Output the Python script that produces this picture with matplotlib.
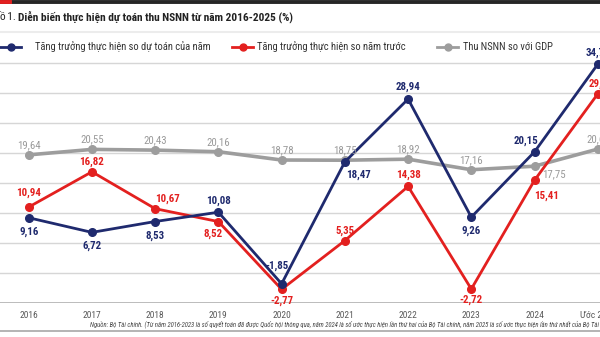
import matplotlib
matplotlib.use("Agg")
import matplotlib.pyplot as plt
from matplotlib.lines import Line2D

plt.rcParams["font.family"] = ["Roboto Condensed", "DejaVu Sans"]

# ---- data ----
years = ["2016", "2017", "2018", "2019", "2020", "2021", "2022", "2023", "2024", "Ước 2025"]
vs_budget = [9.16, 6.72, 8.53, 10.08, -1.85, 18.47, 28.94, 9.26, 20.15, 34.75]
vs_prev_year = [10.94, 16.82, 10.67, 8.52, -2.77, 5.35, 14.38, -2.72, 15.41, 29.8]
revenue_gdp = [19.64, 20.55, 20.43, 20.16, 18.78, 18.75, 18.92, 17.16, 17.75, 20.6]

series_names = [
    "Tăng trưởng thực hiện so dự toán của năm",
    "Tăng trưởng thực hiện so năm trước",
    "Thu NSNN so với GDP",
]
title_num = "ồ 1. "
title_main = "Diễn biến thực hiện dự toán thu NSNN từ năm 2016-2025 (%)"
source_note = ("Nguồn: Bộ Tài chính. (Từ năm 2016-2023 là số quyết toán đã được Quốc hội thông qua, "
               "năm 2024 là số ước thực hiện lần thứ hai của Bộ Tài chính, "
               "năm 2025 là số ước thực hiện lần thứ nhất của Bộ Tài chính)")

BLUE = "#1f2a6e"
RED = "#e3201f"
GRAY = "#9d9d9d"

W, H = 600, 337
fig = plt.figure(figsize=(W / 100, H / 100), dpi=100)


def fy(px):
    return 1 - px / H


# axes geometry: x step 63.23 px starting at 28.7 px; y = 6 px per unit, -5 at 302.7 px
x0, dx = 28.7, 63.23
ymin, ymax = -5, 37
ax_bottom = fy(302.7)
ax_height = (ymax - ymin) * 6 / H
ax = fig.add_axes([0, ax_bottom, 1, ax_height])
ax.set_xlim(-x0 / dx, (W - x0) / dx)
ax.set_ylim(ymin, ymax)
ax.patch.set_alpha(0)
for s in ax.spines.values():
    s.set_visible(False)
ax.set_yticks([])
ax.set_xticks([])

# horizontal grid
for g in range(0, 40, 5):
    ax.axhline(g, color="#d6d6d6", lw=1.0, zorder=0)
ax.axhline(-5, color="#b0b0b0", lw=1.2, zorder=0)

xs = list(range(len(years)))
ax.plot(xs, revenue_gdp, color=GRAY, lw=2.6, marker="o", ms=5.5, zorder=2, clip_on=False)
ax.plot(xs, vs_prev_year, color=RED, lw=2.0, marker="o", ms=5.5, zorder=3, clip_on=False)
ax.plot(xs, vs_budget, color=BLUE, lw=2.0, marker="o", ms=5.5, zorder=4, clip_on=False)


def fmt(v):
    return f"{v:.2f}".replace(".", ",")


# label offsets in points (dx, dy)
blue_off = [(0, -10), (0, -10), (0, -10), (0, 8), (-3, 13), (10, -9), (0, 9), (0, -10), (-6, 8), (0, 8)]
red_off = [(0, 10), (0, 7), (9, 7), (-4, -9), (0, -8), (0, 7), (0, 8), (0, -8), (9, -11), (0, 7)]
gray_off = [(0, 7), (0, 7), (0, 7), (0, 7), (0, 7), (0, 7), (0, 7), (0, 7), (14, -6), (0, 7)]
labels = [
    (vs_budget, blue_off, BLUE, "bold"),
    (vs_prev_year, red_off, RED, "bold"),
    (revenue_gdp, gray_off, "#9a9a9a", "normal"),
]
for vals, offs, col, wt in labels:
    for x, v, (ox, oy) in zip(xs, vals, offs):
        label = fmt(v)
        if vals is vs_prev_year and x == 9:
            label = f"{v:.1f}".replace(".", ",")
        ax.annotate(label, (x, v), xytext=(ox, oy), textcoords="offset points",
                    ha="center", va="center", fontsize=7.8, color=col, fontweight=wt,
                    annotation_clip=False, zorder=6)

# year labels
for x, yl in zip(xs, years):
    ax.annotate(yl, (x, -5), xytext=(0, -9), textcoords="offset points", ha="center",
                va="center", fontsize=6.8, color="#5a5a5a", annotation_clip=False)

# top bars
fig.add_artist(Line2D([0, 1], [fy(2), fy(2)], color="#262626", lw=2.8, transform=fig.transFigure))
fig.add_artist(Line2D([0, 10 / W], [fy(2), fy(2)], color=RED, lw=2.8, transform=fig.transFigure))
fig.add_artist(Line2D([0, 1], [fy(32), fy(32)], color="#ececec", lw=1.5, transform=fig.transFigure))
fig.add_artist(Line2D([0, 1], [fy(330.5), fy(330.5)], color="#a8a8a8", lw=1.2, transform=fig.transFigure))

# title
t1 = fig.text(-1 / W, fy(17), title_num, fontsize=8.2, color="#222222", va="center", ha="left")
fig.canvas.draw()
bb = t1.get_window_extent()
fig.text(bb.x1 / W, fy(17), title_main, fontsize=8.2, color="#222222", va="center",
         ha="left", fontweight="bold")

# legend
leg_y = fy(47)
legend_items = [(0, BLUE, 35), (232, RED, 257), (437, GRAY, 463)]
for (lx, col, tx), name in zip(legend_items, series_names):
    fig.add_artist(Line2D([lx / W, (lx + 21) / W], [leg_y, leg_y], color=col, lw=2.0,
                          transform=fig.transFigure))
    fig.add_artist(Line2D([(lx + 10.5) / W], [leg_y], color=col, marker="o", ms=5,
                          transform=fig.transFigure))
    fig.text(tx / W, leg_y, name, fontsize=7.6, color="#333333", va="center", ha="left")

# source note
fig.text(90 / W, fy(324.3), source_note, fontsize=4.8, color="#444444", style="italic",
         va="center", ha="left")

fig.savefig("out.png", dpi=100)
